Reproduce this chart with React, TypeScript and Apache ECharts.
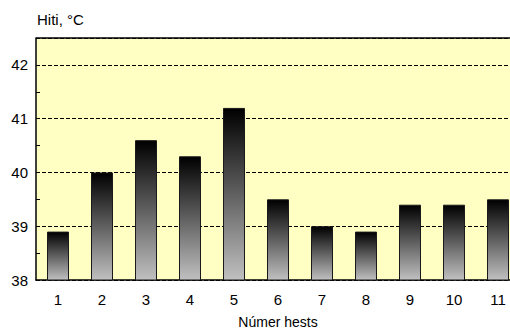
import React, { useEffect, useRef } from "react";
import * as echarts from "echarts";

const categories = ["1", "2", "3", "4", "5", "6", "7", "8", "9", "10", "11"];
const values = [38.9, 40.0, 40.6, 40.3, 41.2, 39.5, 39.0, 38.9, 39.4, 39.4, 39.5];
const yTicks = [38, 39, 40, 41, 42];

export default function App() {
  const ref = useRef<HTMLDivElement>(null);
  useEffect(() => {
    if (!ref.current) return;
    const chart = echarts.init(ref.current, null, { renderer: "svg" });
    const font = "Liberation Sans, Arial, sans-serif";
    chart.setOption({
      animation: false,
      backgroundColor: "#ffffff",
      textStyle: { fontFamily: font },
      graphic: [
        {
          type: "text",
          left: 37,
          top: 12,
          style: { text: "Hiti, °C", font: `15px ${font}`, fill: "#000" },
        },
        {
          type: "line",
          shape: { x1: 36, y1: 38, x2: 510, y2: 38 },
          style: { stroke: "#000", lineWidth: 1.5 },
          z: 10,
        },
      ],
      grid: {
        left: 36,
        top: 38,
        right: -10,
        bottom: 51,
        show: true,
        backgroundColor: "#ffffc4",
        borderWidth: 0,
        containLabel: false,
        outerBoundsMode: "none",
      },
      xAxis: {
        type: "category",
        data: categories,
        name: "Númer hests",
        nameLocation: "middle",
        nameGap: 35,
        nameTextStyle: { fontSize: 14, color: "#000", fontFamily: font },
        axisLine: { lineStyle: { color: "#000", width: 1.5 } },
        axisTick: { show: false },
        axisLabel: { fontSize: 15, color: "#000", margin: 12, fontFamily: font },
      },
      yAxis: {
        type: "value",
        min: 38,
        max: 42.5,
        interval: 1,
        axisLine: { show: true, lineStyle: { color: "#000", width: 1.5 } },
        axisTick: { show: false, inside: true },
        minorTick: { show: true, splitNumber: 2, length: 4, lineStyle: { color: "#000" } },
        axisLabel: {
          fontSize: 15,
          color: "#000",
          margin: 8,
          fontFamily: font,
          formatter: (v: number) => (yTicks.includes(v) ? String(v) : ""),
        },
        splitLine: { show: true, lineStyle: { color: "#000", type: [4, 2], width: 1 } },
      },
      series: [
        {
          type: "bar",
          data: values,
          barWidth: "50%",
          itemStyle: {
            color: new echarts.graphic.LinearGradient(0, 0, 0, 1, [
              { offset: 0, color: "#000000" },
              { offset: 1, color: "#c0c0c0" },
            ]),
            borderColor: "#1a1a1a",
            borderWidth: 1,
          },
          z: 3,
        },
      ],
    });
    return () => chart.dispose();
  }, []);
  return <div ref={ref} style={{ width: 510, height: 331, position: "absolute", left: 0, top: 0 }} />;
}
